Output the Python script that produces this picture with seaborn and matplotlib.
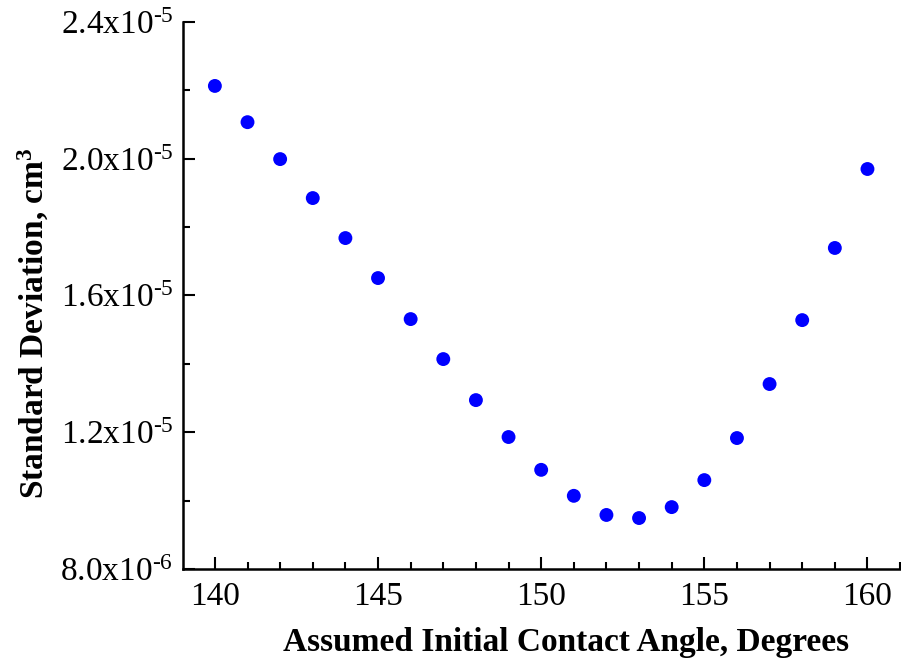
import matplotlib
matplotlib.use("Agg")
import matplotlib.pyplot as plt
import seaborn as sns
import pandas as pd
from matplotlib.ticker import MultipleLocator

# ---- data ----
angles = [140, 141, 142, 143, 144, 145, 146, 147, 148, 149, 150,
          151, 152, 153, 154, 155, 156, 157, 158, 159, 160]
std_dev = [2.213e-5, 2.107e-5, 1.999e-5, 1.885e-5, 1.768e-5, 1.651e-5,
           1.531e-5, 1.414e-5, 1.294e-5, 1.186e-5, 1.090e-5, 1.014e-5,
           9.58e-6, 9.49e-6, 9.81e-6, 1.060e-5, 1.183e-5, 1.341e-5,
           1.528e-5, 1.739e-5, 1.970e-5]
x_ticks = [140, 145, 150, 155, 160]
y_ticks = [8.0e-6, 1.2e-5, 1.6e-5, 2.0e-5, 2.4e-5]
y_tick_labels = [r"8.0x10$^{\text{-6}}$", r"1.2x10$^{\text{-5}}$",
                 r"1.6x10$^{\text{-5}}$", r"2.0x10$^{\text{-5}}$",
                 r"2.4x10$^{\text{-5}}$"]
x_label = "Assumed Initial Contact Angle, Degrees"
y_label = r"Standard Deviation, cm$^{\mathbf{3}}$"

sns.set_style("ticks")
plt.rcParams["font.family"] = ["Liberation Serif", "DejaVu Serif"]
plt.rcParams["mathtext.fontset"] = "custom"
plt.rcParams["mathtext.rm"] = "Liberation Serif"
plt.rcParams["mathtext.it"] = "Liberation Serif:italic"
plt.rcParams["mathtext.bf"] = "Liberation Serif:bold"
for key in ["text.color", "axes.labelcolor", "xtick.color", "ytick.color",
            "axes.edgecolor"]:
    plt.rcParams[key] = "black"

df = pd.DataFrame({"angle": angles, "sd": std_dev})

fig = plt.figure(figsize=(9.01, 6.59), dpi=100)
ax = fig.add_axes([0.203, 0.1366, 0.796, 0.830])

sns.scatterplot(data=df, x="angle", y="sd", ax=ax, color="#0000FF",
                s=100, edgecolor="none", linewidth=0, legend=False)

ax.set_xlim(139.02, 161.0)
ax.set_ylim(8.0e-6, 2.4e-5)
ax.set_xticks(x_ticks)
ax.set_xticklabels([str(v) for v in x_ticks])
ax.xaxis.set_minor_locator(MultipleLocator(1))
ax.set_yticks(y_ticks)
ax.set_yticklabels(y_tick_labels)
ax.yaxis.set_minor_locator(MultipleLocator(2e-6))

ax.tick_params(axis="both", which="major", direction="in", length=8.5,
               width=1.5, colors="black", labelsize=24)
ax.tick_params(axis="both", which="minor", direction="in", length=5,
               width=1.5, colors="black")
ax.tick_params(axis="x", which="major", pad=9)
ax.tick_params(axis="y", which="major", pad=7)

for side in ["top", "right"]:
    ax.spines[side].set_visible(False)
for side in ["left", "bottom"]:
    ax.spines[side].set_linewidth(1.8)
    ax.spines[side].set_color("black")

ax.set_xlabel(x_label, fontsize=24, fontweight="bold", labelpad=11)
ax.set_ylabel(y_label, fontsize=24, fontweight="bold", labelpad=7)
ax.xaxis.label.set_x(0.534)
ax.yaxis.label.set_y(0.45)
ax.set_facecolor("white")

fig.savefig("out.png", dpi=100, facecolor="white")
